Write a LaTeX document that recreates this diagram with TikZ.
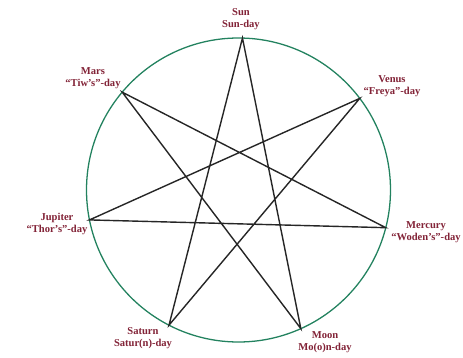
\documentclass[tikz,border=0pt]{standalone}
\usepackage{fontspec}
\setmainfont{Liberation Serif}
\usepackage{xcolor}
\usepackage{tikz}
\usetikzlibrary{calc}
\definecolor{vertcercle}{RGB}{35,130,95}
\definecolor{bordeaux}{RGB}{130,35,55}

\begin{document}
\begin{tikzpicture}[x=0.03cm, y=0.03cm,
    etiquette/.style={align=center, color=bordeaux, font=\bfseries\fontsize{9}{10.4}\selectfont},
    etoile/.style={line width=1.2pt, color=black!85}]
    % Cadre de l'image
    \useasboundingbox (0,0) rectangle (463,358);

    % Centre et cercle (en vert)
    \coordinate (centre) at (238.5,168);
    \draw[vertcercle, line width=1.1pt] (centre) circle (152);

    % Sommets de l'heptagone
    \foreach \i/\nom in {0/sun,1/venus,2/mercury,3/moon,4/saturn,5/jupiter,6/mars}
        \coordinate (\nom) at ($(centre)+({88.5-\i*360/7}:152)$);

    % Etoile a sept branches
    \draw[etoile] (sun) -- (moon) -- (mars) -- (mercury) -- (jupiter) -- (venus) -- (saturn) -- cycle;

    % Noms des jours (en bordeaux)
    \node[etiquette] (lsun) at (241,339) {Sun\\Sun-day};
    \node[etiquette] (lvenus) at (392,272) {Venus\\“Freya”-day};
    \node[etiquette] (lmercury) at (426,126) {Mercury\\“Woden’s”-day};
    \node[etiquette] (lmoon) at (325,16) {Moon\\Mo(o)n-day};
    \node[etiquette] (lsaturn) at (143,20) {Saturn\\Satur(n)-day};
    \node[etiquette] (ljupiter) at (57,134) {Jupiter\\“Thor’s”-day};
    \node[etiquette] (lmars) at (93,280) {Mars\\“Tiw’s”-day};

\end{tikzpicture}
\end{document}
